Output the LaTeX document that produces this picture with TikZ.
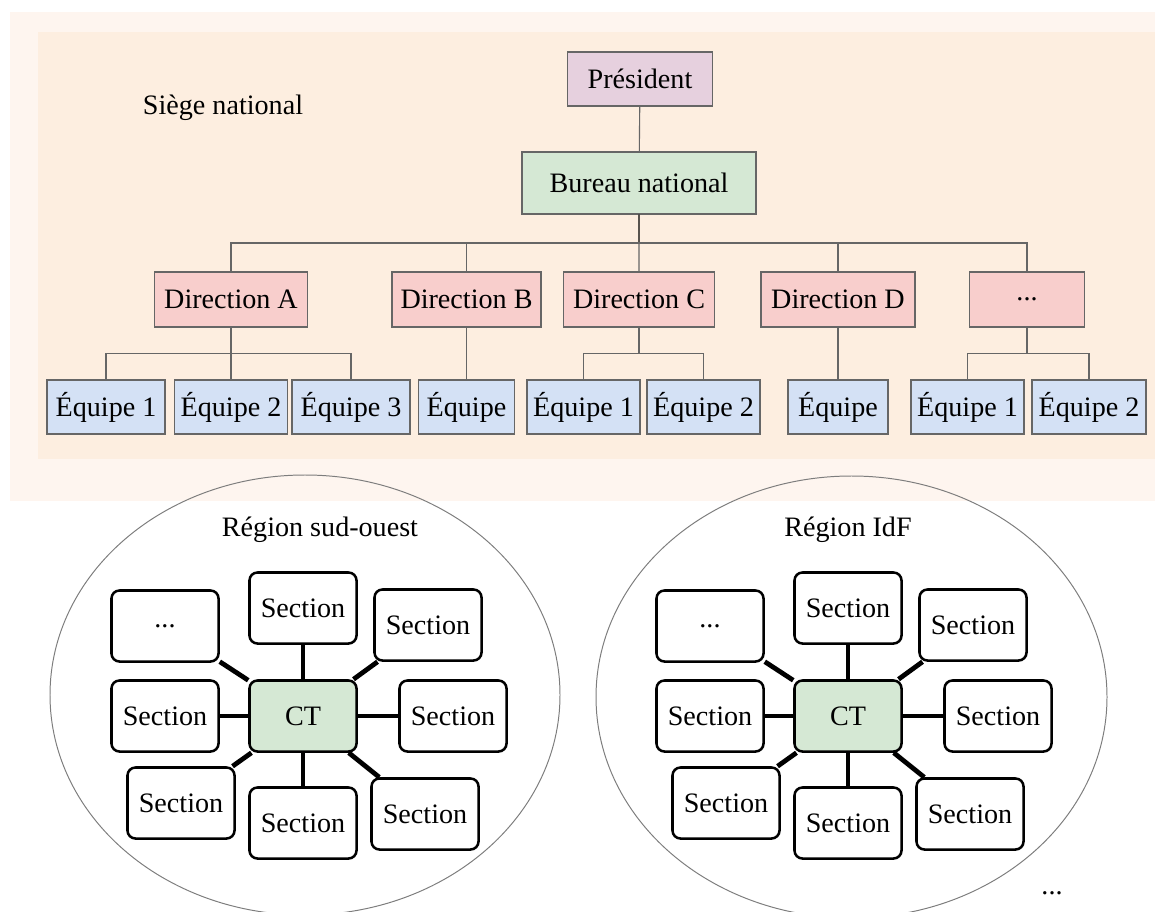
\documentclass[tikz,border=0pt]{standalone}
\usepackage{fontspec}
\setmainfont{Liberation Serif}
\usetikzlibrary{calc}
\definecolor{outerbg}{RGB}{254,245,239}
\definecolor{innerbg}{RGB}{253,238,224}
\definecolor{presfill}{RGB}{230,208,222}
\definecolor{greenfill}{RGB}{213,232,212}
\definecolor{dirfill}{RGB}{248,206,204}
\definecolor{eqfill}{RGB}{212,225,245}
\definecolor{boxgray}{RGB}{102,102,102}
\definecolor{ringgray}{RGB}{125,125,125}
\begin{document}
\begin{tikzpicture}[x=0.025cm,y=-0.025cm,
  every node/.style={font=\fontsize{20}{24}\selectfont},
  orgbox/.style={draw=boxgray,line width=0.9pt,minimum height=1.35cm,inner sep=2pt},
  presbox/.style={orgbox,fill=presfill},
  burbox/.style={orgbox,fill=greenfill,minimum height=1.55cm},
  dirbox/.style={orgbox,fill=dirfill,minimum height=1.375cm},
  eqbox/.style={orgbox,fill=eqfill},
  tree/.style={draw=boxgray,line width=0.8pt},
  sectbox/.style={draw,fill=white,rounded corners=0.2cm,line width=1.8pt,minimum width=2.675cm,minimum height=1.775cm,inner sep=2pt},
  ctbox/.style={sectbox,fill=greenfill},
  spoke/.style={line width=3.4pt},
  ring/.style={draw=ringgray,line width=0.7pt}]
\useasboundingbox (0,0) rectangle (1155,912);
% backgrounds
\fill[outerbg] (10,12) rectangle (1155,501);
\fill[innerbg] (38,32) rectangle (1155,459);
\node (siege) at (223,108) {Siège national};
% national tree
\node[presbox,minimum width=3.625cm] (pres) at (640,79) {Président};
\node[burbox,minimum width=5.85cm] (bureau) at (639,183) {Bureau national};
\node[dirbox,minimum width=3.825cm] (dirA) at (231,299.5) {Direction A};
\node[dirbox,minimum width=3.725cm] (dirB) at (466.5,299.5) {Direction B};
\node[dirbox,minimum width=3.775cm] (dirC) at (639,299.5) {Direction C};
\node[dirbox,minimum width=3.85cm] (dirD) at (838,299.5) {Direction D};
\node[dirbox,minimum width=2.875cm] (dirE) at (1027,299.5) {...};
\node[eqbox,minimum width=2.95cm] (eqA1) at (106,407) {Équipe 1};
\node[eqbox,minimum width=2.825cm] (eqA2) at (231,407) {Équipe 2};
\node[eqbox,minimum width=2.95cm] (eqA3) at (351,407) {Équipe 3};
\node[eqbox,minimum width=2.4cm] (eqB) at (466.5,407) {Équipe};
\node[eqbox,minimum width=2.825cm] (eqC1) at (583.5,407) {Équipe 1};
\node[eqbox,minimum width=2.825cm] (eqC2) at (703.5,407) {Équipe 2};
\node[eqbox,minimum width=2.5cm] (eqD) at (838,407) {Équipe};
\node[eqbox,minimum width=2.825cm] (eqE1) at (967.5,407) {Équipe 1};
\node[eqbox,minimum width=2.85cm] (eqE2) at (1089,407) {Équipe 2};
\coordinate (bus) at ($(bureau.south)!.5!(dirC.north)$);
\coordinate (subA) at ($(dirA.south)!.5!(eqA2.north)$);
\coordinate (subC) at (dirC.south |- subA);
\coordinate (subE) at (dirE.south |- subA);
\draw[tree] (pres) -- (bureau);
\draw[line width=1pt] (bureau) -- (bus);
\draw[tree] (bus) -- (dirC);
\draw[tree] (dirA.north) |- (bus) -| (dirE.north);
\draw[tree] (dirB.north) |- (bus);
\draw[tree] (dirD.north) |- (bus);
\draw[tree] (dirA) -- (eqA2);
\draw[tree] (eqA1.north) |- (subA) -| (eqA3.north);
\draw[tree] (dirB) -- (eqB);
\draw[tree] (dirC.south) -- (subC);
\draw[tree] (eqC1.north) |- (subC) -| (eqC2.north);
\draw[tree] (dirD) -- (eqD);
\draw[tree] (dirE.south) -- (subE);
\draw[tree] (eqE1.north) |- (subE) -| (eqE2.north);
% regions
\draw[ring] (305,695) ellipse [x radius=255, y radius=220];
\draw[ring] (851.5,697) ellipse [x radius=255.5, y radius=221];
\node (regSO) at (320,530) {Région sud-ouest};
\node (regIdF) at (848,530) {Région IdF};
\node[ctbox] (soCT) at (303,716) {CT};
\node[sectbox] (soN) at (303,608) {Section};
\node[sectbox] (soNE) at (428,625) {Section};
\node[sectbox] (soE) at (453,716) {Section};
\node[sectbox] (soSE) at (425,814) {Section};
\node[sectbox] (soS) at (303,823) {Section};
\node[sectbox] (soSW) at (181,803) {Section};
\node[sectbox] (soW) at (165,716) {Section};
\node[sectbox] (soNW) at (165,626) {...};
\draw[spoke] (soCT) -- (soN);
\draw[spoke] (soCT) -- (soNE);
\draw[spoke] (soCT) -- (soE);
\draw[spoke] (soCT) -- (soSE);
\draw[spoke] (soCT) -- (soS);
\draw[spoke] (soCT) -- (soSW);
\draw[spoke] (soCT) -- (soW);
\draw[spoke] (soCT) -- (soNW);
\node[ctbox] (idfCT) at (848,716) {CT};
\node[sectbox] (idfN) at (848,608) {Section};
\node[sectbox] (idfNE) at (973,625) {Section};
\node[sectbox] (idfE) at (998,716) {Section};
\node[sectbox] (idfSE) at (970,814) {Section};
\node[sectbox] (idfS) at (848,823) {Section};
\node[sectbox] (idfSW) at (726,803) {Section};
\node[sectbox] (idfW) at (710,716) {Section};
\node[sectbox] (idfNW) at (710,626) {...};
\draw[spoke] (idfCT) -- (idfN);
\draw[spoke] (idfCT) -- (idfNE);
\draw[spoke] (idfCT) -- (idfE);
\draw[spoke] (idfCT) -- (idfSE);
\draw[spoke] (idfCT) -- (idfS);
\draw[spoke] (idfCT) -- (idfSW);
\draw[spoke] (idfCT) -- (idfW);
\draw[spoke] (idfCT) -- (idfNW);
\node (more) at (1052,893) {...};
\end{tikzpicture}
\end{document}
